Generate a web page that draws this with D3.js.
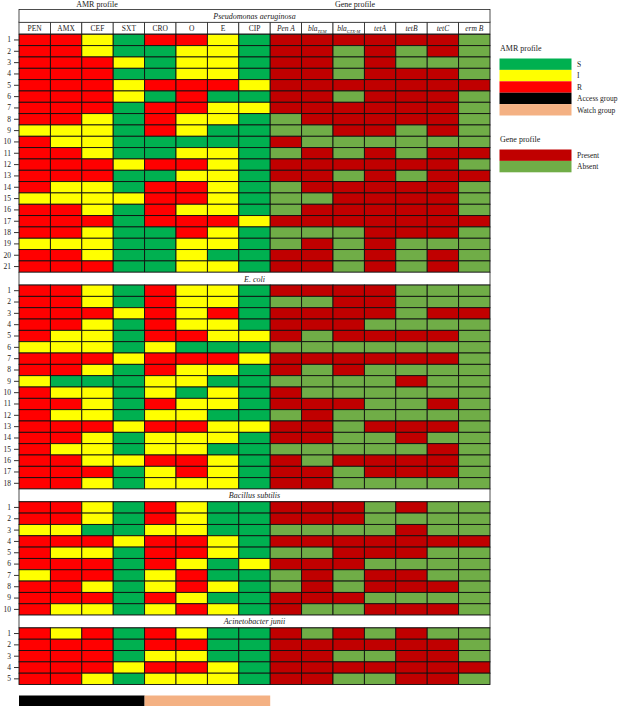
<!DOCTYPE html>
<html>
<head>
<meta charset="utf-8">
<script src="https://cdn.jsdelivr.net/npm/d3@7"></script>
<style>
  body { margin: 0; background: #fff; }
  text { font-family: "Liberation Serif", "DejaVu Serif", serif; fill: #222; }
</style>
</head>
<body>
<svg id="chart" width="620" height="707"></svg>
<script>
// column names
var amrCols = ["PEN", "AMX", "CEF", "SXT", "CRO", "O", "E", "CIP"];
var geneCols = ["Pen A", "blaTEM", "blaCTX-M", "tetA", "tetB", "tetC", "erm B"];
var accessCols = ["PEN", "AMX", "CEF", "SXT"];
var watchCols = ["CRO", "O", "E", "CIP"];

// AMR profile per isolate: R resistant, I intermediate, S susceptible
var pseudoAmr = ["RRISRRIS","RRISSIIS","RRRISIIS","RRRSSIIS","RRRIRRRI","RRRISRSS","RRRSRRII",
  "RRISRIIS","IIISRISS","RIISSSSS","RRISSIIS","RRRIRRIS","RRRSSIIS","RIISRRIS","IIIIRRIS",
  "RRISRIIS","RRRSRRRI","RRISSRIS","IIISSIIS","RRISSISS","RRRSSIIS"];
var coliAmr = ["RRISRIIS","RRISRIIS","RRRIRIRS","RRISRIIS","RIISRRII","IIISISSS","RRRIRRRI",
  "RRISRIIS","ISSSIISS","RIISISIS","RRISRIIS","RIISIISS","RRRIRRII","RRISIIIS","RIISIISS",
  "RRIIRRIS","RRRSIRIS","RRISIIIS"];
var bacAmr = ["RRISRISS","RRISRISS","IISSIISS","RRRIRRIS","RIISRRIS","RRRSRISI","IRRSIRSS",
  "RRISIRIS","RRRSRISS","RIISIRIS"];
var acinAmr = ["RIRSRISS","RRRSRRSS","RRRSIISS","RRRIRRIS","RRISIIIS"];

// gene profile per isolate: 1 present, 0 absent
var pseudoGenes = ["1111110","1101010","1101000","1101110","1111111","1101110","1111110",
  "0111110","0011010","1000000","0101011","1111110","1101011","0111110","0011110",
  "0111110","1111111","0001110","0101000","1101010","1101010"];
var coliGenes = ["1111000","0011000","1111011","1110000","1011110","0000000","1111110",
  "1010000","0000100","1000000","1110010","0100000","1101110","1100100","0000010",
  "1011110","1101110","1100000"];
var bacGenes = ["1110100","1110000","0000100","1111111","0011100","1110000","0101100",
  "0101110","1110000","1001110"];
var acinGenes = ["1010100","1111110","1100110","1111111","1100110"];

var species = ["Pseudomonas aeruginosa", "E. coli", "Bacillus subtilis", "Acinetobacter junii"];
var amrSets = [pseudoAmr, coliAmr, bacAmr, acinAmr];
var geneSets = [pseudoGenes, coliGenes, bacGenes, acinGenes];

var amrColor = {S: "#00b050", I: "#ffff00", R: "#ff0000"};
var geneColor = {"1": "#c00000", "0": "#70ad47"};

var svg = d3.select("#chart");
var allCols = amrCols.concat(geneCols);
var x = d3.scaleBand().domain(allCols).range([19, 490]);
var rowH = 11.33, titleH = 12.8;
var headTop = 9.5;

// top labels
svg.append("text").attr("x", 97).attr("y", 6.5).attr("text-anchor", "middle")
  .style("font-size", "8px").text("AMR profile");
svg.append("text").attr("x", 355).attr("y", 6.5).attr("text-anchor", "middle")
  .style("font-size", "8px").text("Gene profile");

var headerY = headTop + 12.5;

// column header cells
svg.selectAll(".colhead")
  .data(allCols)
  .enter().append("rect")
  .attr("class", "colhead")
  .attr("x", function(d) { return x(d); })
  .attr("y", headerY)
  .attr("width", x.bandwidth())
  .attr("height", 12)
  .attr("fill", "#fff")
  .attr("stroke", "#222")
  .attr("stroke-width", 0.8);

var hlab = svg.selectAll(".collab")
  .data(allCols)
  .enter().append("text")
  .attr("class", "collab")
  .attr("x", function(d) { return x(d) + x.bandwidth() / 2; })
  .attr("y", headerY + 9)
  .attr("text-anchor", "middle")
  .style("font-size", "7.5px")
  .style("font-style", function(d) { return geneCols.indexOf(d) >= 0 ? "italic" : "normal"; });
hlab.each(function(d) {
  var t = d3.select(this);
  if (d.indexOf("bla") === 0) {
    t.append("tspan").text("bla");
    t.append("tspan").attr("dy", 2).style("font-size", "4.5px").text(d.slice(3));
  } else {
    t.text(d);
  }
});

var yTop = headTop;
species.forEach(function(name, si) {
  // species band
  svg.append("rect")
    .attr("x", x.range()[0]).attr("y", yTop)
    .attr("width", x.range()[1] - x.range()[0]).attr("height", titleH)
    .attr("fill", "#fff").attr("stroke", "#222").attr("stroke-width", 0.8);
  svg.append("text")
    .attr("x", (x.range()[0] + x.range()[1]) / 2)
    .attr("y", yTop + titleH / 2 + 3)
    .attr("text-anchor", "middle")
    .style("font-size", "8px").style("font-style", "italic")
    .text(name);
  yTop += titleH;
  if (si === 0) yTop += 12;

  var amr = amrSets[si], genes = geneSets[si];
  var rows = d3.range(1, amr.length + 1);
  var y = d3.scaleBand().domain(rows).range([yTop, yTop + rows.length * rowH]);

  var cells = [];
  amr.forEach(function(s, i) {
    amrCols.forEach(function(c, j) {
      cells.push({row: i + 1, col: c, fill: amrColor[s[j]]});
    });
    geneCols.forEach(function(c, j) {
      cells.push({row: i + 1, col: c, fill: geneColor[genes[i][j]]});
    });
  });

  var g = svg.append("g");
  g.selectAll("rect")
    .data(cells)
    .enter().append("rect")
    .attr("x", function(d) { return x(d.col); })
    .attr("y", function(d) { return y(d.row); })
    .attr("width", x.bandwidth())
    .attr("height", y.bandwidth())
    .attr("fill", function(d) { return d.fill; })
    .attr("stroke", "#111")
    .attr("stroke-width", 0.9);

  var axis = svg.append("g")
    .attr("transform", "translate(" + x.range()[0] + ",0)")
    .call(d3.axisLeft(y).tickSize(5).tickPadding(3));
  axis.select(".domain").remove();
  axis.selectAll("line").attr("stroke", "#333");
  axis.selectAll("text")
    .style("font-family", "Liberation Serif, serif")
    .style("font-size", "7.5px").attr("fill", "#222");

  yTop += rows.length * rowH;
});

// antibiotic group bar
svg.append("rect")
  .attr("x", x(accessCols[0])).attr("y", 695.5)
  .attr("width", x(accessCols[accessCols.length - 1]) + x.bandwidth() - x(accessCols[0]))
  .attr("height", 10.5).attr("fill", "#000");
svg.append("rect")
  .attr("x", x(watchCols[0])).attr("y", 695.5)
  .attr("width", x(watchCols[watchCols.length - 1]) + x.bandwidth() - x(watchCols[0]))
  .attr("height", 10.5).attr("fill", "#f4b183");

// legend
var amrLegend = [["S", "#00b050"], ["I", "#ffff00"], ["R", "#ff0000"],
  ["Access group", "#000000"], ["Watch group", "#f4b183"]];
var geneLegend = [["Present", "#c00000"], ["Absent", "#70ad47"]];

function legend(title, items, y0) {
  svg.append("text").attr("x", 500).attr("y", y0).style("font-size", "8px").text(title);
  var ly = d3.scaleBand().domain(items.map(function(d) { return d[0]; }))
    .range([y0 + 7.5, y0 + 7.5 + items.length * 11.4]);
  svg.selectAll(null).data(items).enter().append("rect")
    .attr("x", 499.5).attr("y", function(d) { return ly(d[0]); })
    .attr("width", 72).attr("height", ly.bandwidth())
    .attr("fill", function(d) { return d[1]; });
  svg.selectAll(null).data(items).enter().append("text")
    .attr("x", 577).attr("y", function(d) { return ly(d[0]) + ly.bandwidth() / 2 + 2.8; })
    .style("font-size", "7.5px").text(function(d) { return d[0]; });
}
legend("AMR profile", amrLegend, 51);
legend("Gene profile", geneLegend, 142);
</script>
</body>
</html>
